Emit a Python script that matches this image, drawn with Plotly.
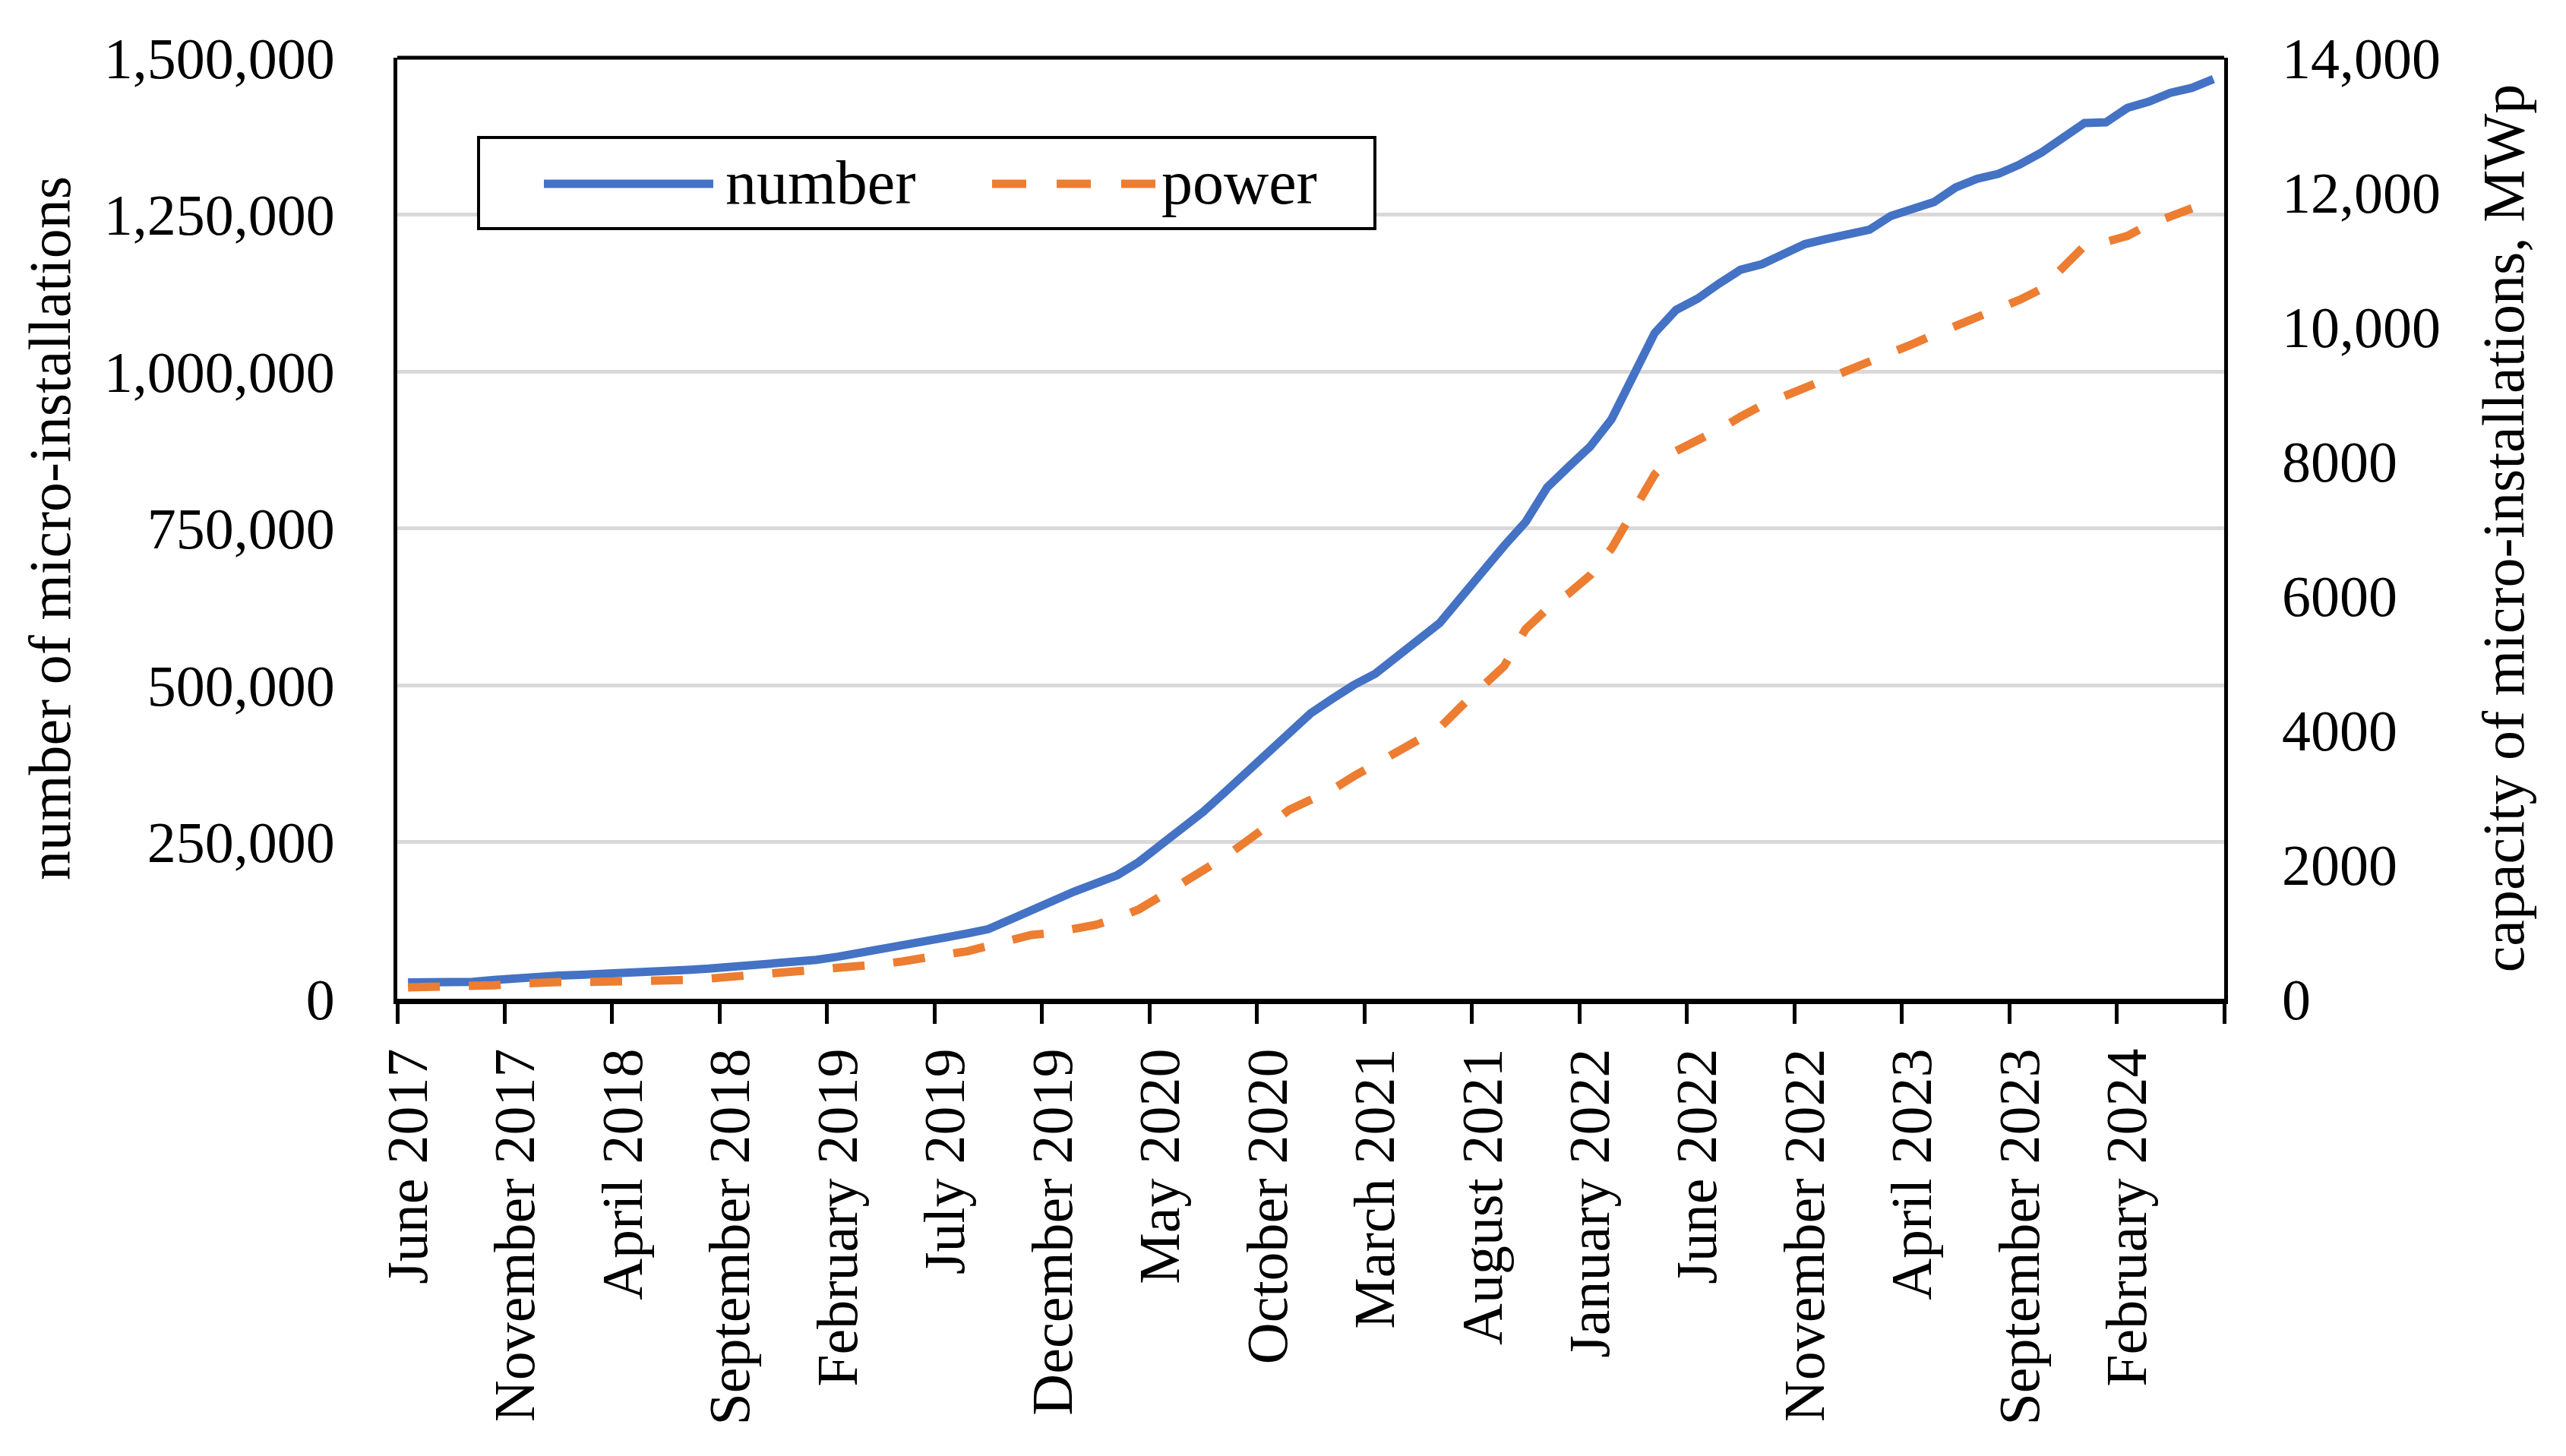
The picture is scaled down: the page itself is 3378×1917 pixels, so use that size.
import plotly.graph_objects as go

# ---------------- data ----------------
month_names = ["January", "February", "March", "April", "May", "June", "July",
               "August", "September", "October", "November", "December"]
# monthly categories: June 2017 ... June 2024
months = [f"{month_names[(5 + k) % 12]} {2017 + (5 + k) // 12}" for k in range(85)]

number = [26000, 26000, 26500, 27000, 30000, 33000, 36000, 37000, 38000, 39000,
          40500, 42000, 44000, 46000, 48000, 50500, 53000, 55500, 58000, 62000,
          67000, 72500, 78000, 84500, 91000, 97500, 104000, 111000, 126000, 142000,
          158000, 171000, 184000, 197000, 218000, 244000, 268000, 298000, 329000, 360000,
          392000, 423000, 455000, 478000, 500000, 518000, 545000, 572000, 599000, 640000,
          682000, 722000, 760000, 815000, 848000, 880000, 924000, 993000, 1061000, 1098000,
          1116000, 1140000, 1162000, 1171000, 1188000, 1203000, 1211000, 1218000, 1226000, 1248000,
          1258000, 1270000, 1293000, 1307000, 1315000, 1330000, 1349000, 1373000, 1396000, 1397000,
          1420000, 1430000, 1444000, 1452000, 1466000]

power = [170, 172, 180, 188, 200, 225, 245, 249, 249, 249,
         252, 262, 272, 280, 300, 325, 350, 380, 405, 425,
         445, 480, 515, 555, 620, 660, 705, 780, 860, 950,
         980, 1030, 1100, 1200, 1330, 1520, 1720, 1900, 2110, 2340,
         2570, 2810, 2960, 3110, 3310, 3490, 3670, 3870, 4030, 4350,
         4640, 4950, 5500, 5800, 6030, 6300, 6700, 7250, 7800, 8150,
         8300, 8470, 8660, 8830, 8960, 9090, 9220, 9340, 9450, 9590,
         9740, 9880, 10020, 10160, 10270, 10400, 10560, 10880, 11200, 11260,
         11350, 11520, 11640, 11760]

left_ticks = [0, 250000, 500000, 750000, 1000000, 1250000, 1500000]
right_ticks = [0, 2000, 4000, 6000, 8000, 10000, 12000, 14000]
right_ticktext = ["0", "2000", "4000", "6000", "8000", "10,000", "12,000", "14,000"]
label_step = 5

# ---------------- layout geometry ----------------
W, H = 3378, 1917
PL, PR, PT, PB = 515, 2920, 68, 1307
FONT = "Liberation Serif, Times New Roman, serif"
BLUE = "#4472C4"
ORANGE = "#ED7D31"


def px(X):
    return (X - PL) / (PR - PL)


def py(Y):
    return (PB - Y) / (PB - PT)


x_idx = list(range(len(months)))

fig = go.Figure()
fig.add_trace(go.Scatter(
    x=x_idx, y=number, name="number", mode="lines",
    line=dict(color=BLUE, width=11), yaxis="y",
    customdata=months, hovertemplate="%{customdata}: %{y:,}<extra></extra>"))
fig.add_trace(go.Scatter(
    x=x_idx[:len(power)], y=power, name="power", mode="lines",
    line=dict(color=ORANGE, width=11, dash="42px,38px"), yaxis="y2",
    customdata=months[:len(power)], hovertemplate="%{customdata}: %{y:,}<extra></extra>"))

fig.update_layout(
    width=W, height=H,
    margin=dict(l=PL, r=W - PR, t=PT, b=H - PB, pad=0),
    paper_bgcolor="white", plot_bgcolor="white",
    showlegend=False,
    font=dict(family=FONT, size=76, color="black"),
    xaxis=dict(
        range=[-0.5, len(months) - 0.5],
        tickmode="array", tickvals=x_idx[::label_step], ticktext=months[::label_step],
        tickangle=-90, ticks="", ticklabelstandoff=28,
        tickfont=dict(family=FONT, size=76, color="black"),
        showline=True, linecolor="black", linewidth=7,
        showgrid=False, zeroline=False,
        minor=dict(tick0=-0.5, dtick=label_step, ticks="outside", ticklen=26,
                   tickwidth=5, tickcolor="black", showgrid=False),
    ),
    yaxis=dict(
        range=[0, 1500000], tickmode="array", tickvals=left_ticks, tickformat=",",
        ticks="", ticklabelstandoff=62,
        tickfont=dict(family=FONT, size=76, color="black"),
        showgrid=True, gridcolor="#d9d9d9", gridwidth=5,
        zeroline=False, showline=True, linecolor="black", linewidth=5, mirror=True,
        title=dict(text="number of micro-installations", standoff=20,
                   font=dict(family=FONT, size=78, color="black")),
    ),
    yaxis2=dict(
        overlaying="y", side="right",
        range=[0, 14000], tickmode="array", tickvals=right_ticks, ticktext=right_ticktext,
        ticks="", ticklabelstandoff=75,
        tickfont=dict(family=FONT, size=76, color="black"),
        showgrid=False, zeroline=False, showline=False,
        title=dict(text="capacity of micro-installations, MWp", standoff=55,
                   font=dict(family=FONT, size=78, color="black")),
    ),
)

# top frame line
fig.add_shape(type="line", xref="paper", yref="paper", x0=0, x1=1, y0=1, y1=1,
              line=dict(color="black", width=5))

# legend (drawn manually to reproduce the long line swatches)
fig.add_shape(type="rect", xref="paper", yref="paper",
              x0=px(622), x1=px(1802), y0=py(293), y1=py(173),
              line=dict(color="black", width=4), fillcolor="white", layer="above")
fig.add_shape(type="line", xref="paper", yref="paper",
              x0=px(708), x1=px(931), y0=py(234), y1=py(234),
              line=dict(color=BLUE, width=11), layer="above")
fig.add_shape(type="line", xref="paper", yref="paper",
              x0=px(1298), x1=px(1513), y0=py(234), y1=py(234),
              line=dict(color=ORANGE, width=11, dash="45px,40px"), layer="above")
fig.add_annotation(text="number", xref="paper", yref="paper", x=px(945), y=py(232),
                   xanchor="left", yanchor="middle", showarrow=False,
                   font=dict(family=FONT, size=82, color="black"))
fig.add_annotation(text="power", xref="paper", yref="paper", x=px(1519), y=py(232),
                   xanchor="left", yanchor="middle", showarrow=False,
                   font=dict(family=FONT, size=82, color="black"))

fig.write_html("out.html")
